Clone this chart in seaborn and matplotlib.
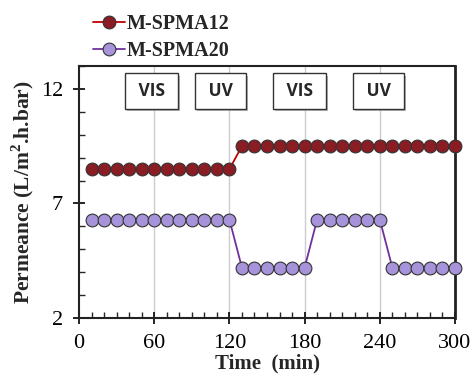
import numpy as np
import pandas as pd
import matplotlib
matplotlib.use("Agg")
import matplotlib.pyplot as plt
import matplotlib.patheffects as pe
import seaborn as sns
from matplotlib.ticker import MultipleLocator

time_min = [10, 20, 30, 40, 50, 60, 70, 80, 90, 100, 110, 120,
            130, 140, 150, 160, 170, 180, 190, 200, 210, 220, 230, 240,
            250, 260, 270, 280, 290, 300]
spma12 = [8.5] * 12 + [9.5] * 18
spma20 = [6.3] * 12 + [4.2] * 6 + [6.3] * 6 + [4.2] * 6
series_names = ["M-SPMA12", "M-SPMA20"]
phase_labels = ["VIS", "UV", "VIS", "UV"]
phase_x = [58, 113, 176, 239]
phase_y = 11.9

df = pd.DataFrame({
    "Time": time_min * 2,
    "Permeance": spma12 + spma20,
    "Series": [series_names[0]] * len(time_min) + [series_names[1]] * len(time_min),
})

sns.set_style("white")
plt.rcParams['font.family'] = ['Liberation Serif', 'DejaVu Serif']
plt.rcParams['mathtext.fontset'] = 'custom'
plt.rcParams['mathtext.bf'] = 'Liberation Serif:bold'
plt.rcParams['mathtext.rm'] = 'Liberation Serif'

fig = plt.figure(figsize=(4.73, 3.81), dpi=100)
ax = fig.add_axes([0.167, 0.165, 0.795, 0.662])

line_colors = {"M-SPMA12": "#c00000", "M-SPMA20": "#7030a0"}
face_colors = {"M-SPMA12": "#8a1c24", "M-SPMA20": "#a693da"}

for name in series_names:
    sub = df[df["Series"] == name]
    sns.lineplot(data=sub, x="Time", y="Permeance", ax=ax, color=line_colors[name],
                 linewidth=1.3, marker="o", markersize=9.2,
                 markerfacecolor=face_colors[name], markeredgecolor="#333333",
                 markeredgewidth=0.8, label=name, zorder=3, clip_on=False)

ax.set_xlim(0, 300)
ax.set_ylim(2, 13)
ax.set_xticks([0, 60, 120, 180, 240, 300])
ax.set_yticks([2, 7, 12])
ax.xaxis.set_minor_locator(MultipleLocator(10))
ax.yaxis.set_minor_locator(MultipleLocator(1))
ax.tick_params(axis="both", which="major", direction="inout", length=9, width=1.2,
               labelsize=16, colors="black", pad=7)
ax.tick_params(axis="both", which="minor", direction="in", length=4.5, width=1.0)
ax.tick_params(axis="x", which="both", bottom=True, top=False)
ax.tick_params(axis="y", which="both", left=True, right=False)

ax.grid(False)
for xv in [60, 120, 180, 240]:
    ax.axvline(xv, color="#cccccc", linewidth=1.0, zorder=0)

for s in ax.spines.values():
    s.set_color("#222222")
    s.set_linewidth(1.5)
ax.spines["right"].set_linewidth(2.0)

ax.set_xlabel("Time  (min)", fontsize=15, fontweight="bold", labelpad=0)
ax.set_ylabel("Permeance (L/m$^\\mathbf{2}$.h.bar)", fontsize=15.5, fontweight="bold")
ax.yaxis.set_label_coords(-0.115, 0.5)

for lab, xv in zip(phase_labels, phase_x):
    t = ax.text(xv, phase_y, " " + lab + " ", ha="center", va="center", fontsize=12.5,
                fontweight="bold", family=["Open Sans", "DejaVu Sans"],
                bbox=dict(boxstyle="square,pad=0.5", facecolor="white", edgecolor="#333333",
                          linewidth=1.0), zorder=5)
    t.get_bbox_patch().set_path_effects([
        pe.SimplePatchShadow(offset=(1.5, -1.5), shadow_rgbFace="#888888", alpha=0.6),
        pe.Normal()])

leg = ax.legend(loc="lower left", bbox_to_anchor=(0.01, 0.98), frameon=False,
                prop={"family": "Liberation Serif", "weight": "bold", "size": 14.5},
                handlelength=1.6, handletextpad=0.1, labelspacing=0.32, borderaxespad=0.1)

fig.savefig("out.png", dpi=100)
